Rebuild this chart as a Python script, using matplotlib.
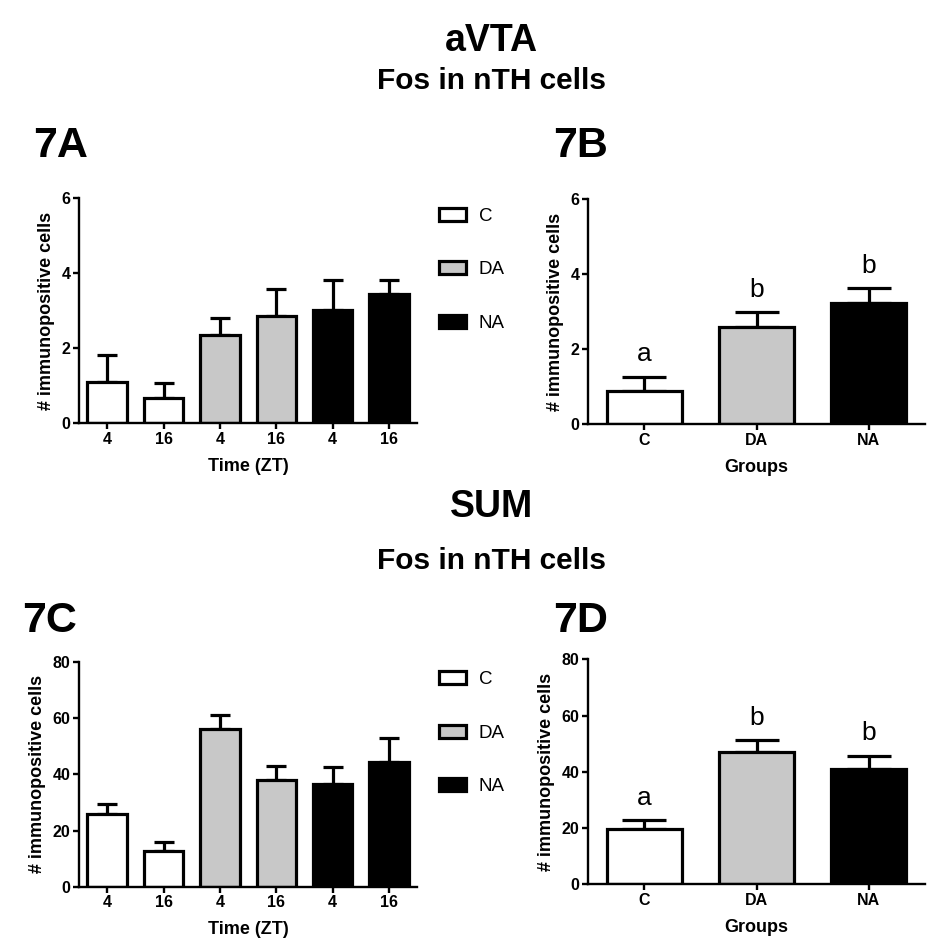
import matplotlib
matplotlib.use("Agg")
import matplotlib.pyplot as plt
from matplotlib.patches import Patch
import numpy as np

plt.rcParams["font.family"] = ["Liberation Sans", "DejaVu Sans"]

# group colours (control, dark-adapted, night-active)
groups = ["C", "DA", "NA"]
group_colors = ["white", "#c8c8c8", "black"]
time_labels = ["4", "16", "4", "16", "4", "16"]

# aVTA, Fos in nTH cells
avta_time_mean = [1.10, 0.67, 2.35, 2.85, 3.02, 3.44]
avta_time_sem = [0.72, 0.41, 0.47, 0.74, 0.81, 0.39]
avta_group_mean = [0.89, 2.60, 3.24]
avta_group_sem = [0.38, 0.40, 0.40]

# SUM, Fos in nTH cells
sum_time_mean = [25.8, 12.8, 56.1, 37.9, 36.6, 44.5]
sum_time_sem = [3.8, 3.2, 5.1, 5.0, 5.9, 8.3]
sum_group_mean = [19.8, 46.9, 40.9]
sum_group_sem = [3.1, 4.4, 4.8]

sig_letters = ["a", "b", "b"]


def style_axes(ax, ymax, ystep):
    ax.spines["top"].set_visible(False)
    ax.spines["right"].set_visible(False)
    ax.spines["left"].set_linewidth(1.7)
    ax.spines["bottom"].set_linewidth(1.7)
    ax.spines["left"].set_bounds(0, ymax)
    ax.set_ylim(0, ymax)
    ax.set_yticks(np.arange(0, ymax + ystep / 2, ystep))
    ax.tick_params(axis="both", direction="out", length=4, width=1.7,
                   labelsize=11.5, pad=2)
    for lab in ax.get_xticklabels() + ax.get_yticklabels():
        lab.set_fontweight("bold")
    ax.set_ylabel("# immunopositive cells", fontsize=13, fontweight="bold",
                  labelpad=5)


def time_panel(ax, means, sems, ymax, ystep):
    x = np.arange(len(means))
    colors = [c for c in group_colors for _ in range(2)]
    ax.errorbar(x, means, yerr=[np.zeros(len(sems)), sems], fmt="none",
                ecolor="black", elinewidth=2.3, capsize=7.5, capthick=2.3,
                zorder=1)
    ax.bar(x, means, width=0.7, color=colors, edgecolor="black",
           linewidth=2.3, zorder=2)
    ax.set_xlim(-0.5, 5.5)
    ax.set_xticks(x)
    ax.set_xticklabels(time_labels)
    style_axes(ax, ymax, ystep)
    ax.set_xlabel("Time (ZT)", fontsize=13, fontweight="bold", labelpad=8)
    handles = [Patch(facecolor=c, edgecolor="black", linewidth=2.3)
               for c in group_colors]
    ax.legend(handles, groups, loc="upper left", bbox_to_anchor=(1.036, 1.0),
              frameon=False, fontsize=13.5, handlelength=1.45,
              handleheight=0.68, handletextpad=0.7, labelspacing=1.95,
              borderpad=0)


def group_panel(ax, means, sems, ymax, ystep):
    x = np.arange(len(means))
    ax.errorbar(x, means, yerr=[np.zeros(len(sems)), sems], fmt="none",
                ecolor="black", elinewidth=2.3, capsize=16, capthick=2.3,
                zorder=1)
    ax.bar(x, means, width=0.67, color=group_colors, edgecolor="black",
           linewidth=2.3, zorder=2)
    for xi, m, s, letter in zip(x, means, sems, sig_letters):
        ax.annotate(letter, (xi, m + s), xytext=(0, 11),
                    textcoords="offset points", ha="center", va="baseline",
                    fontsize=19)
    ax.set_xlim(-0.5, 2.5)
    ax.set_xticks(x)
    ax.set_xticklabels(groups)
    style_axes(ax, ymax, ystep)
    ax.set_xlabel("Groups", fontsize=13, fontweight="bold", labelpad=8)


fig = plt.figure(figsize=(9.32, 9.49), dpi=100)

ax_a = fig.add_axes([0.0848, 0.554, 0.3627, 0.2371])
ax_b = fig.add_axes([0.6309, 0.5529, 0.3616, 0.2371])
ax_c = fig.add_axes([0.0848, 0.0653, 0.3627, 0.2374])
ax_d = fig.add_axes([0.6309, 0.0682, 0.3616, 0.2371])

time_panel(ax_a, avta_time_mean, avta_time_sem, 6, 2)
group_panel(ax_b, avta_group_mean, avta_group_sem, 6, 2)
time_panel(ax_c, sum_time_mean, sum_time_sem, 80, 20)
group_panel(ax_d, sum_group_mean, sum_group_sem, 80, 20)

# headings
fig.text(0.527, 1 - 41 / 949, "aVTA", ha="center", va="center",
         fontsize=27, fontweight="bold")
fig.text(0.527, 1 - 81 / 949, "Fos in nTH cells", ha="center", va="center",
         fontsize=21.5, fontweight="bold")
fig.text(0.527, 1 - 507 / 949, "SUM", ha="center", va="center",
         fontsize=27, fontweight="bold")
fig.text(0.527, 1 - 561 / 949, "Fos in nTH cells", ha="center", va="center",
         fontsize=21.5, fontweight="bold")

# panel letters
fig.text(33 / 932, 1 - 146 / 949, "7A", ha="left", va="center",
         fontsize=31, fontweight="bold")
fig.text(553 / 932, 1 - 146 / 949, "7B", ha="left", va="center",
         fontsize=31, fontweight="bold")
fig.text(22 / 932, 1 - 621 / 949, "7C", ha="left", va="center",
         fontsize=31, fontweight="bold")
fig.text(553 / 932, 1 - 621 / 949, "7D", ha="left", va="center",
         fontsize=31, fontweight="bold")

fig.savefig("out.png", dpi=100)
